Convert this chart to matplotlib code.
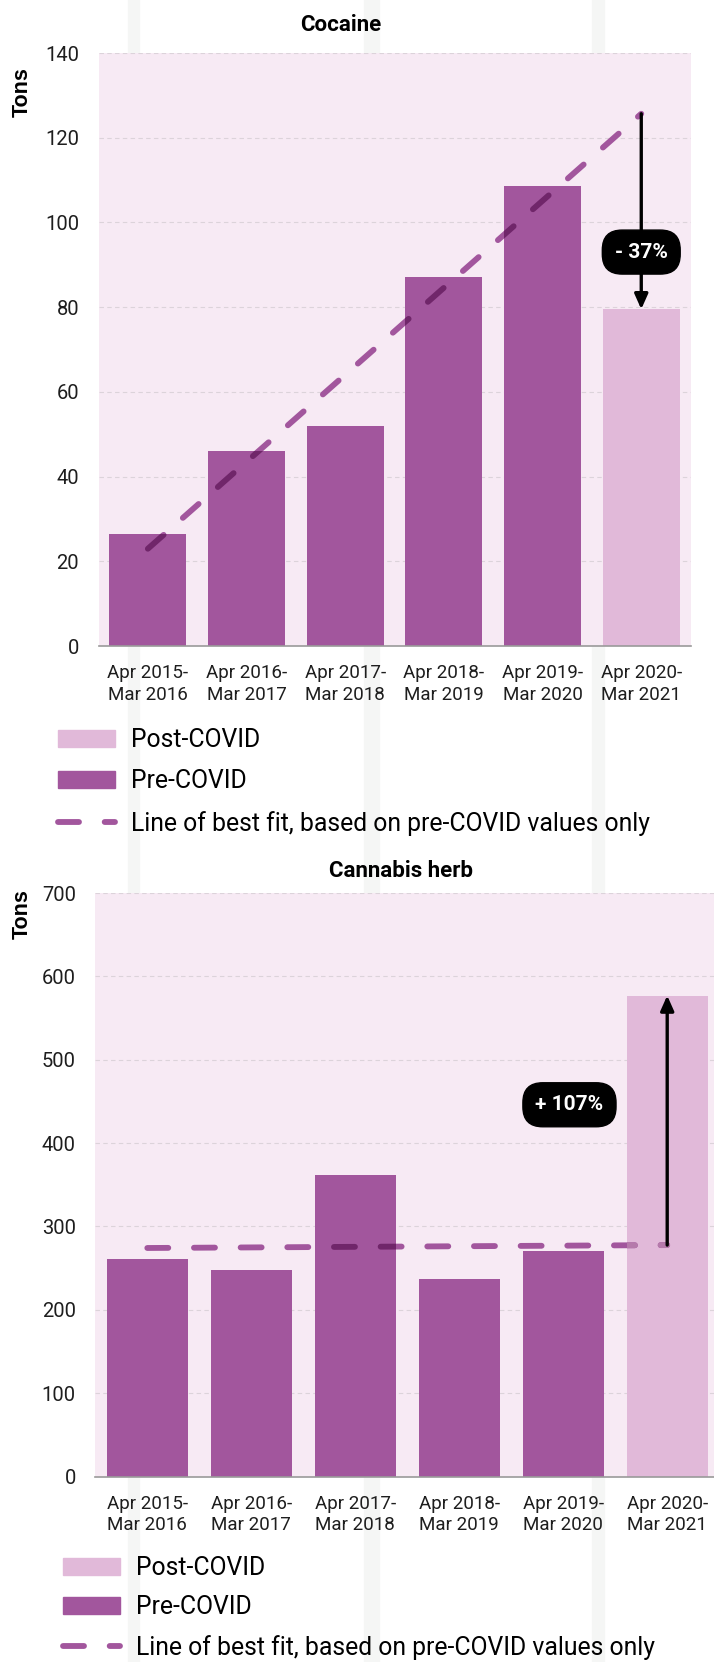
import numpy as np
import matplotlib
matplotlib.use("Agg")
import matplotlib.pyplot as plt
from matplotlib.patches import Patch, Rectangle
from matplotlib.lines import Line2D

# DATA
periods = ["Apr 2015-\nMar 2016", "Apr 2016-\nMar 2017", "Apr 2017-\nMar 2018",
           "Apr 2018-\nMar 2019", "Apr 2019-\nMar 2020", "Apr 2020-\nMar 2021"]
cocaine_tons = [26.5, 46, 52, 87, 108.7, 79.5]
cannabis_tons = [261, 248, 362, 237, 270, 577]
cocaine_yticks = [0, 20, 40, 60, 80, 100, 120, 140]
cannabis_yticks = [0, 100, 200, 300, 400, 500, 600, 700]
cocaine_change = "- 37%"
cannabis_change = "+ 107%"
legend_labels = ["Post-COVID", "Pre-COVID", "Line of best fit, based on pre-COVID values only"]

# STYLE
PRE = "#a2569d"
POST = "#e1b9d9"
DARK = "#70266a"
BG = "#f7eaf4"
FONT = ["Roboto", "DejaVu Sans"]
W, H = 714, 1662
LW = 4.2
DASH = (3.6, 4.4)

fig = plt.figure(figsize=(W / 100, H / 100), dpi=100)

# faint background stripes
for x0, x1 in [(128, 139), (364, 379), (592, 604)]:
    fig.patches.append(Rectangle((x0 / W, 0), (x1 - x0) / W, 1, transform=fig.transFigure,
                                 color="#f5f6f5", zorder=-10))


def box(l, r, t, b):
    return [l / W, 1 - b / H, (r - l) / W, (b - t) / H]


def draw_panel(rect, values, yticks, xlim, title, title_x, title_y, tons_y,
               change, label_pos, leg_top, leg_x, leg_space):
    ax = fig.add_axes(rect)
    ax.set_facecolor(BG)
    x = np.arange(len(values))
    colors = [PRE] * (len(values) - 1) + [POST]
    bars = ax.bar(x, values, width=0.78, color=colors, zorder=2)

    # line of best fit on pre-COVID values only
    k, c = np.polyfit(x[:-1], values[:-1], 1)
    fit = k * x + c
    ax.plot(x, fit, color=PRE, lw=LW, dashes=DASH, dash_capstyle="round", zorder=3)
    for b in bars:
        ln, = ax.plot(x, fit, color=DARK if b.get_facecolor()[0] < 0.8 else "#b57aab",
                      lw=LW, dashes=DASH, dash_capstyle="round", zorder=4)
        ln.set_clip_path(b)

    # change arrow
    ax.annotate("", xy=(x[-1], values[-1]), xytext=(x[-1], fit[-1]),
                arrowprops=dict(arrowstyle="-|>,head_length=0.9,head_width=0.4",
                                color="black", lw=2.4, shrinkA=0, shrinkB=0), zorder=5)
    ax.text(label_pos[0], label_pos[1], change, color="white", fontsize=15,
            fontweight="bold", ha="center", va="center", zorder=6, family=FONT,
            bbox=dict(boxstyle="round,pad=0.6,rounding_size=0.95", fc="black", ec="black"))

    ax.set_xlim(*xlim)
    ax.set_ylim(yticks[0], yticks[-1])
    ax.set_yticks(yticks)
    ax.set_xticks(x)
    ax.set_xticklabels(periods, family=FONT, fontsize=13.5, linespacing=1.25)
    for t in ax.get_yticklabels():
        t.set_family(FONT)
        t.set_fontsize(14.5)
    ax.tick_params(axis="both", length=0, colors="#1e1e1e")
    ax.tick_params(axis="x", pad=13)
    ax.tick_params(axis="y", pad=14)
    ax.grid(axis="y", color="#dcd3da", lw=0.8, ls=(0, (4, 3)), zorder=1)
    ax.set_axisbelow(True)
    for s in ["top", "right", "left"]:
        ax.spines[s].set_visible(False)
    ax.spines["bottom"].set_color("#9a9a9a")
    ax.spines["bottom"].set_linewidth(1.2)
    ax.spines["bottom"].set_zorder(6)

    fig.text(title_x / W, 1 - title_y / H, title, family=FONT, fontsize=16,
             fontweight="bold", ha="center", va="center")
    fig.text(22 / W, 1 - tons_y / H, "Tons", fontsize=15.5, fontweight="bold",
             family=["Liberation Sans", "DejaVu Sans"],
             rotation=90, ha="center", va="center")

    handles = [Patch(color=POST), Patch(color=PRE),
               Line2D([0], [0], color=PRE, lw=LW, dashes=DASH, dash_capstyle="round")]
    fig.legend(handles, legend_labels, loc="upper left",
               bbox_to_anchor=(leg_x / W, 1 - leg_top / H), frameon=False,
               prop=dict(family=FONT, size=17.8), handlelength=2.3, handleheight=0.7,
               handletextpad=0.65, labelspacing=leg_space, borderaxespad=0, borderpad=0)
    return ax


draw_panel(box(98.5, 690.6, 53, 646), cocaine_tons, cocaine_yticks, (-0.5, 5.5),
           "Cocaine", 341, 25, 92, cocaine_change, (5, 93), 728, 58, 0.7)
draw_panel(box(95.3, 714, 893, 1476.6), cannabis_tons, cannabis_yticks, (-0.5, 5.45),
           "Cannabis herb", 401, 871, 914, cannabis_change, (4.06, 446), 1556, 63, 0.62)

fig.savefig("out.png", dpi=100)
